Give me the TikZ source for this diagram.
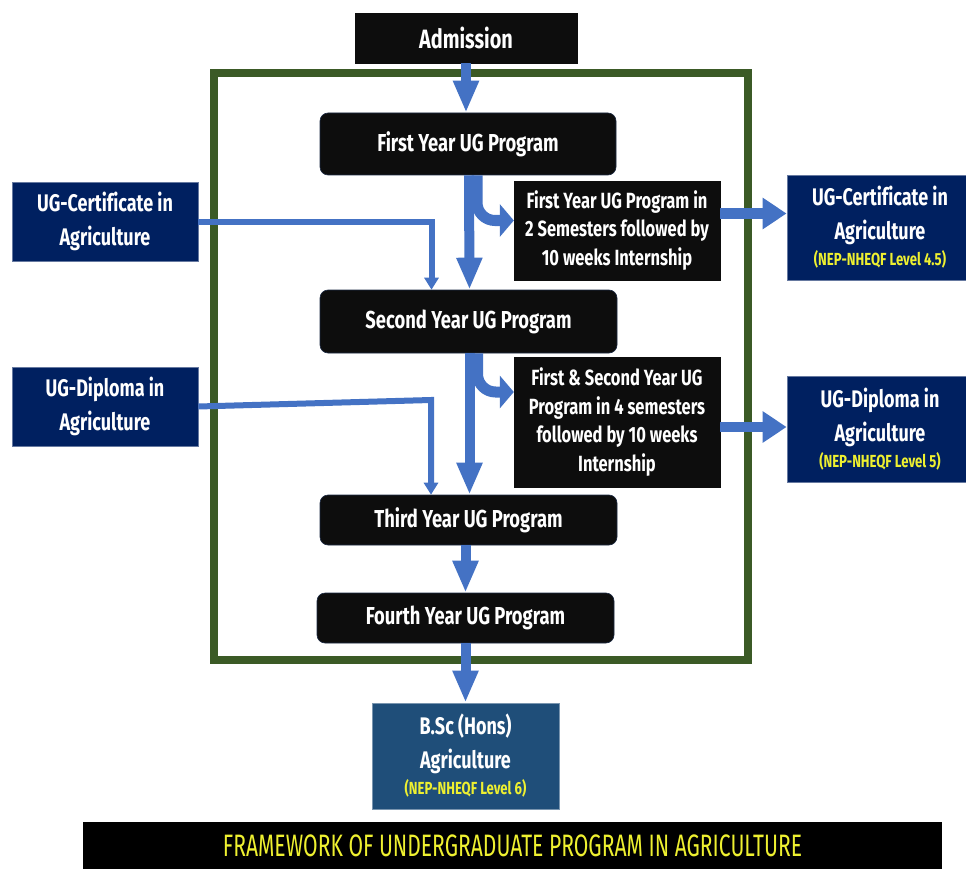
\documentclass[tikz,border=0pt]{standalone}
\usepackage{fontspec}
\setmainfont{Fira Sans}[FakeStretch=0.75, Ligatures=NoCommon]
\newfontfamily\bannerfont{Fira Sans}[FakeStretch=0.68, Ligatures=NoCommon]
\usetikzlibrary{arrows.meta}
\definecolor{arrowblue}{HTML}{4472C4}
\definecolor{navy}{HTML}{002060}
\definecolor{bscblue}{HTML}{1F4E79}
\definecolor{framegreen}{HTML}{3B5A26}
\definecolor{boxblack}{HTML}{0D0D0D}
\definecolor{ylw}{HTML}{EEF030}
\newcommand{\lvl}[1]{{\fontsize{17.5}{19}\selectfont\color{ylw}#1}}
\begin{document}
\begin{tikzpicture}[x=1pt,y=-1pt,
  prog/.style={fill=boxblack, draw=boxblack!70!arrowblue, line width=0.6pt, rounded corners=8pt, inner sep=0pt, text=white, font=\bfseries\fontsize{24.5}{28}\selectfont},
  plain/.style={fill=boxblack, draw=boxblack, inner sep=0pt, text=white, align=center, font=\bfseries\fontsize{22}{28.5}\selectfont},
  navybox/.style={fill=navy, draw=navy!60!white, line width=0.8pt, inner sep=0pt, text=white, align=center, font=\bfseries\fontsize{24}{34}\selectfont},
  bigarrow/.style={draw=arrowblue, line width=10pt, -{Triangle[width=24pt,length=32pt]}},
  bentarrow/.style={draw=arrowblue, line width=11pt, rounded corners=18pt, -{Triangle[width=32pt,length=14pt]}},
  sidearrow/.style={draw=arrowblue, line width=10pt, -{Triangle[width=30pt,length=24pt]}},
  thinarrow/.style={draw=arrowblue, line width=6pt, -{Triangle[width=14pt,length=12pt]}}
]
\useasboundingbox (0,0) rectangle (966,869);
\fill[white] (0,0) rectangle (966,869);

% frame
\node[draw=framegreen, line width=8pt, minimum width=534pt, minimum height=587pt, inner sep=0pt] (frame) at (481,366.5) {};

% nodes
\node[plain, minimum width=222pt, minimum height=50pt, font=\bfseries\fontsize{26.5}{30}\selectfont] (adm) at (466,38) {Admission};
\node[prog, minimum width=296pt, minimum height=62pt] (first) at (468,144) {First Year UG Program};
\node[prog, minimum width=297pt, minimum height=63pt] (second) at (468.5,321.5) {Second Year UG Program};
\node[prog, minimum width=297pt, minimum height=50pt] (third) at (468.5,520) {Third Year UG Program};
\node[prog, minimum width=297pt, minimum height=50pt] (fourth) at (465.5,618) {Fourth Year UG Program};

\node[plain, minimum width=206pt, minimum height=99pt] (side1) at (617,230.5) {First Year UG Program in\\2 Semesters followed by\\10 weeks Internship};
\node[plain, minimum width=206pt, minimum height=130pt] (side2) at (617,422) {First \& Second Year UG\\Program in 4 semesters\\followed by 10 weeks\\Internship};

\node[navybox, minimum width=186pt, minimum height=79pt] (lcert) at (105,221.5) {UG-Certificate in\\Agriculture};
\node[navybox, minimum width=186pt, minimum height=79pt] (ldipl) at (105,406.5) {UG-Diploma in\\Agriculture};

\node[navybox, minimum width=186pt, minimum height=105pt] (rcert) at (880,227.5) {UG-Certificate in\\Agriculture\\[-8pt]\lvl{(NEP-NHEQF Level 4.5)}};
\node[navybox, minimum width=186pt, minimum height=106pt] (rdipl) at (880,429) {UG-Diploma in\\Agriculture\\[-8pt]\lvl{(NEP-NHEQF Level 5)}};

\node[navybox, fill=bscblue, draw=bscblue!60!white, minimum width=187pt, minimum height=106pt] (bsc) at (465.5,756) {B.Sc (Hons)\\Agriculture\\[-8pt]\lvl{(NEP-NHEQF Level 6)}};

\node[fill=black, minimum width=859pt, minimum height=47pt, inner sep=0pt, text=ylw, font=\bannerfont\fontsize{31}{34}\selectfont] (banner) at (512.5,845.5) {FRAMEWORK OF UNDERGRADUATE PROGRAM IN AGRICULTURE};

% arrows
\draw[bigarrow] (adm.south) -- (adm.south |- first.north);
\draw[bentarrow] ([xshift=9pt]first.south) |- ([yshift=10pt]side1.west);
\draw[bigarrow] ([xshift=1pt]first.south) -- ([xshift=1pt]second.north);
\draw[thinarrow] (lcert.east) -| ([xshift=-37pt]second.north);
\coordinate (dbend) at (431,400);
\draw[thinarrow] (ldipl.east) -- (dbend) -- (dbend |- third.north);
\draw[bentarrow] ([xshift=9pt]second.south) |- ([yshift=30pt]side2.west);
\draw[bigarrow] ([xshift=1pt]second.south) -- ([xshift=1pt]third.north);
\draw[sidearrow] ([yshift=17pt]side1.east) -- ([yshift=17pt]side1.east -| rcert.west);
\draw[sidearrow] ([yshift=-5pt]side2.east) -- ([yshift=-5pt]side2.east -| rdipl.west);
\draw[bigarrow] (fourth.north |- third.south) -- (fourth.north);
\draw[bigarrow] (fourth.south) -- (bsc.north);
\end{tikzpicture}
\end{document}
